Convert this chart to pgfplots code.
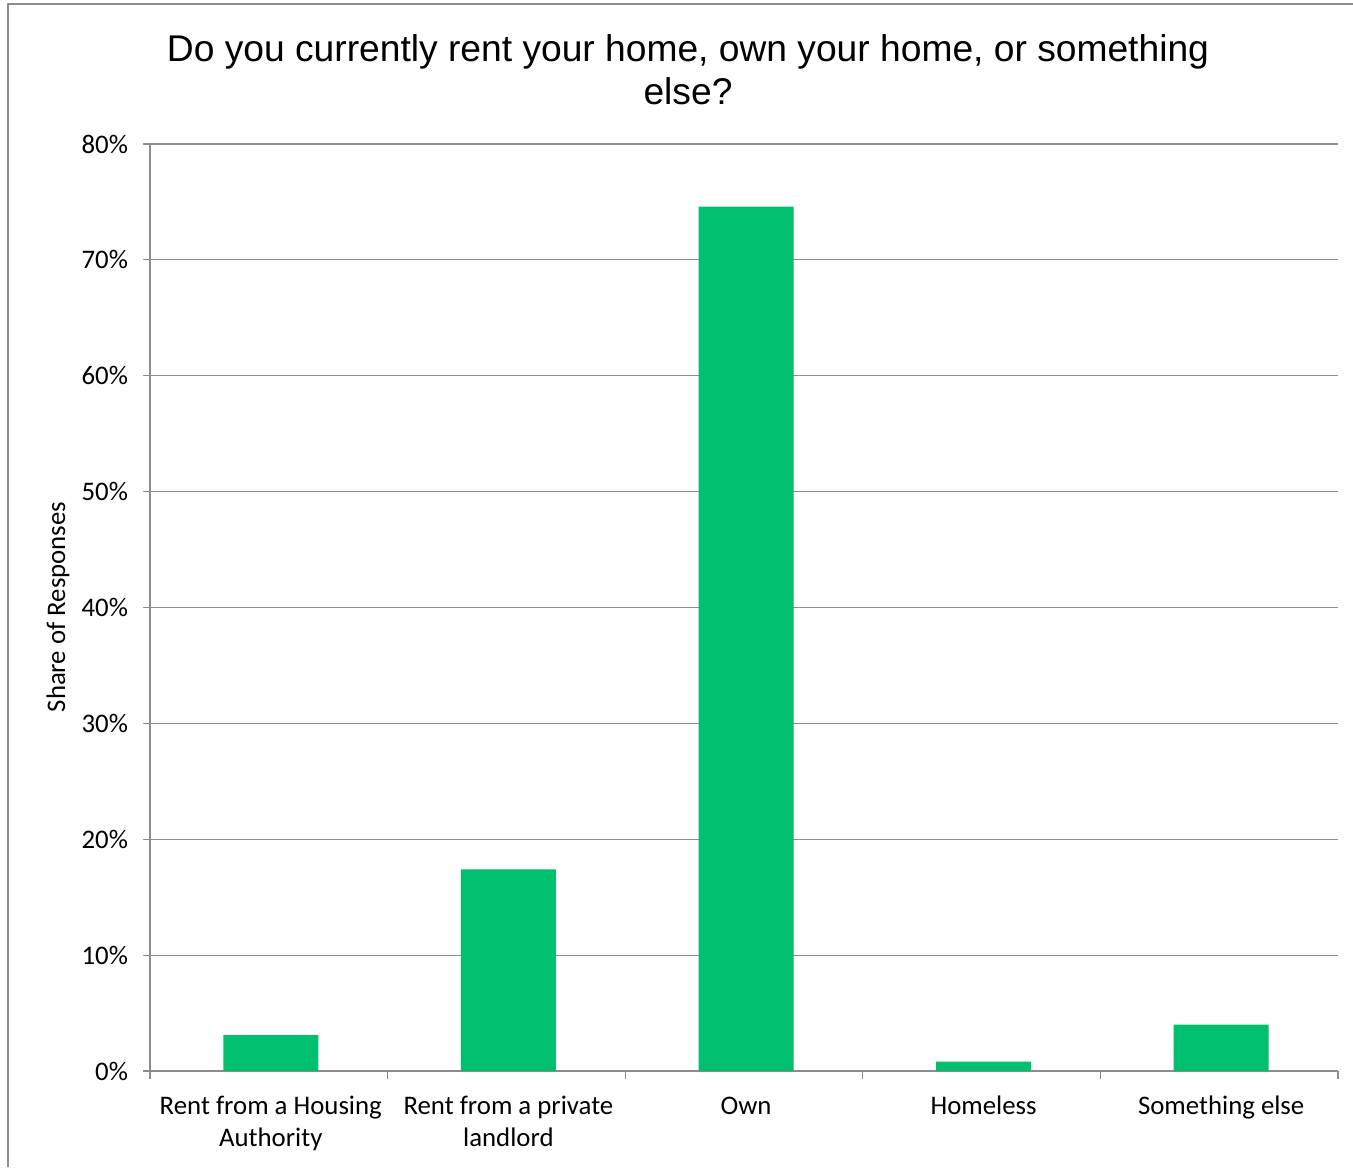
\documentclass[border=0pt]{standalone}
\usepackage{fontspec}
\setmainfont{Carlito}
\newfontfamily\titlefont{Liberation Sans}
\usepackage{pgfplots}
\pgfplotsset{compat=1.18}
\definecolor{bargreen}{HTML}{00BF6F}
\definecolor{gridgray}{HTML}{8C8C8C}
\begin{document}
\begin{tikzpicture}
\useasboundingbox (0,0) rectangle (676.5pt,583.5pt);
\draw[gridgray, line width=0.7pt] (4pt,0) -- (4pt,581.5pt) -- (676.5pt,581.5pt);
\node[font=\titlefont\fontsize{18.6pt}{21.5pt}\selectfont, align=center, anchor=center] at (344pt,548.75pt)
  {Do you currently rent your home, own your home, or something\\else?};
\node[font=\fontsize{13.4pt}{15pt}\selectfont, rotate=90, anchor=center] at (29pt,280pt) {Share of Responses};
\begin{axis}[
  at={(75pt,48pt)}, anchor=south west,
  width=594pt, height=463.5pt, scale only axis,
  xmin=-0.5, xmax=4.5, ymin=0, ymax=80,
  ytick={0,10,...,80},
  yticklabel={\pgfmathprintnumber{\tick}\%},
  /pgf/number format/assume math mode=true,
  xtick={0,1,2,3,4},
  xticklabels={{\strut Rent from a Housing\\Authority},{\strut Rent from a private\\landlord},{\strut Own},{\strut Homeless},{\strut Something else}},
  xticklabel style={align=center, font=\fontsize{13.4pt}{16pt}\selectfont, yshift=-3.5pt, xshift=1pt},
  yticklabel style={font=\fontsize{13.4pt}{15pt}\selectfont, xshift=-4pt},
  minor xtick={-0.5,0.5,1.5,2.5,3.5,4.5},
  major x tick style={draw=none},
  tick align=outside,
  major tick length=3.5pt, minor tick length=4pt,
  tick style={gridgray, line width=0.6pt},
  axis x line*=bottom, axis y line*=left,
  axis line style={gridgray, line width=0.7pt, -},
  ymajorgrids, grid style={gridgray, line width=0.6pt},
  ybar, bar width=47.5pt, bar shift=1pt,
  clip=false,
]
\addplot[fill=bargreen, draw=none] coordinates {(0,3.1) (1,17.4) (2,74.6) (3,0.8) (4,4.0)};
\end{axis}
\end{tikzpicture}
\end{document}
